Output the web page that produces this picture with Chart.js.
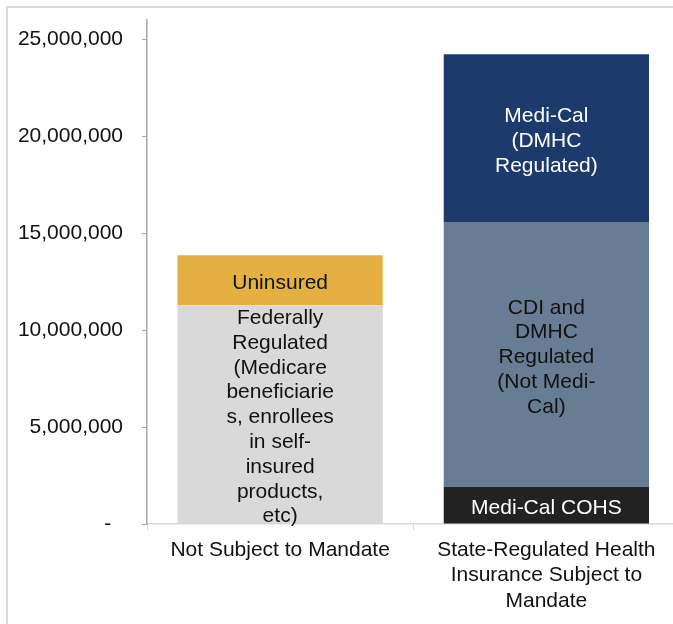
<!DOCTYPE html>
<html>
<head>
<meta charset="utf-8">
<script src="https://cdn.jsdelivr.net/npm/chart.js@4.4.1/dist/chart.umd.min.js"></script>
<style>
  html, body { margin:0; padding:0; background:#fff; overflow:hidden; }
  .frame { position:absolute; left:6px; top:6px; width:720px; height:660px; border:2px solid #d9d9d9; }
  .wrap { position:absolute; left:0; top:0; width:700px; height:620px; }
</style>
</head>
<body>
<div class="frame">
  <div class="wrap"><canvas id="chart"></canvas></div>
</div>
<script>
// categories (x axis)
const categories = [
  "Not Subject to Mandate",
  ["State-Regulated Health", "Insurance Subject to", "Mandate"]
];

// series values (people), stacked bottom -> top
const federallyRegulated = [11290000, null];
const uninsured          = [2580000, null];
const mediCalCOHS        = [null, 1920000];
const cdiDmhcRegulated   = [null, 13660000];
const mediCalDmhc        = [null, 8650000];

// y tick labels
const yTicks = [0, 5000000, 10000000, 15000000, 20000000, 25000000];
const yMax = 26000000;

// text written inside each segment
const federallyLabel = ["Federally", "Regulated", "(Medicare", "beneficiarie", "s, enrollees", "in self-", "insured", "products,", "etc)"];
const uninsuredLabel = ["Uninsured"];
const cohsLabel = ["Medi-Cal COHS"];
const cdiLabel = ["CDI and", "DMHC", "Regulated", "(Not Medi-", "Cal)"];
const mediCalLabel = ["Medi-Cal", "(DMHC", "Regulated)"];

const FONT = "Liberation Sans, Arial, sans-serif";

const datasets = [
  { data: federallyRegulated, backgroundColor: "#d9d9d9", segLabel: federallyLabel, textColor: "#111" },
  { data: uninsured, backgroundColor: "#e3b041", segLabel: uninsuredLabel, textColor: "#111" },
  { data: mediCalCOHS, backgroundColor: "#222222", segLabel: cohsLabel, textColor: "#fff" },
  { data: cdiDmhcRegulated, backgroundColor: "#687c94", segLabel: cdiLabel, textColor: "#111" },
  { data: mediCalDmhc, backgroundColor: "#1c3a6b", segLabel: mediCalLabel, textColor: "#fff" }
];

// draws the multi-line text centred in each bar segment
const segmentLabels = {
  id: "segmentLabels",
  afterDatasetsDraw(chart){
    const ctx = chart.ctx;
    ctx.save();
    ctx.font = "21px " + FONT;
    ctx.textAlign = "center";
    ctx.textBaseline = "middle";
    const lh = 24.8;
    chart.data.datasets.forEach((ds, i) => {
      const meta = chart.getDatasetMeta(i);
      meta.data.forEach((bar, j) => {
        if(ds.data[j] == null) return;
        const cy = (bar.y + bar.base) / 2 + 3;
        const lines = ds.segLabel;
        const y0 = cy - (lines.length - 1) * lh / 2;
        ctx.fillStyle = ds.textColor;
        lines.forEach((t, k) => ctx.fillText(t, bar.x, y0 + k * lh));
      });
    });
    ctx.restore();
  }
};

new Chart(document.getElementById("chart"), {
  type: "bar",
  data: { labels: categories, datasets },
  options: {
    responsive: true,
    maintainAspectRatio: false,
    animation: false,
    layout: { padding: { left: 0, top: 12, right: 28.5, bottom: 0 } },
    datasets: { bar: { categoryPercentage: 1, barPercentage: 0.771 } },
    plugins: { legend: { display: false }, tooltip: { enabled: false } },
    scales: {
      x: {
        stacked: true,
        grid: { drawOnChartArea: false, tickLength: 6, tickColor: "#d9d9d9", offset: true },
        border: { color: "#d9d9d9", width: 1.5 },
        ticks: { color: "#111", padding: 7, maxRotation: 0, autoSkip: false, font: { family: FONT, size: 21, lineHeight: 1.22 } },
        afterFit: (s) => { s.height = 104; s.paddingLeft = 0; s.paddingRight = 0; }
      },
      y: {
        stacked: true,
        min: 0,
        max: yMax,
        grid: { drawOnChartArea: false, tickLength: 5, tickColor: "#a6a6a6" },
        border: { color: "#a6a6a6", width: 1.5 },
        afterBuildTicks: (s) => { s.ticks = yTicks.map(v => ({ value: v })); },
        ticks: {
          color: "#111",
          padding: 19,
          font: { family: FONT, size: 21 },
          callback: (v) => v === 0 ? "-  " : Number(v).toLocaleString("en-US")
        },
        afterFit: (s) => { s.width = 139; s.paddingTop = 0; s.paddingBottom = 0; }
      }
    }
  },
  plugins: [segmentLabels]
});
</script>
</body>
</html>
